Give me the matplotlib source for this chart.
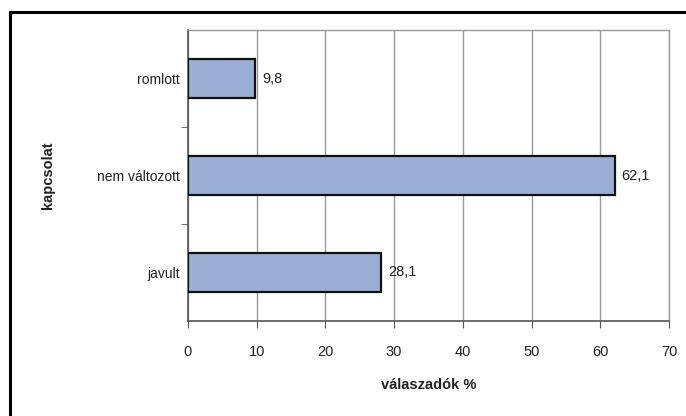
import matplotlib
matplotlib.use("Agg")
import matplotlib.pyplot as plt
from matplotlib.lines import Line2D

categories = ["javult", "nem változott", "romlott"]
values = [28.1, 62.1, 9.8]
value_labels = ["28,1", "62,1", "9,8"]
xticks = [0, 10, 20, 30, 40, 50, 60, 70]

plt.rcParams['font.family'] = ['Liberation Sans', 'DejaVu Sans']

fig = plt.figure(figsize=(6.86, 4.16), dpi=100)
ax = fig.add_axes([188/686, 1-321/416, (669-188)/686, (321-30)/416])

y = list(range(len(categories)))
ax.barh(y, values, height=0.41, color="#9AAFD3", edgecolor="#111111", linewidth=1.6, zorder=3)
for yi, v, lab in zip(y, values, value_labels):
    ax.text(v + 1.0, yi, lab, va="center", ha="left", fontsize=10.5, color="#222222")

ax.set_xlim(0, 70)
ax.set_ylim(-0.5, 2.5)
ax.set_xticks(xticks)
ax.set_xticklabels([str(t) for t in xticks], fontsize=10.5, color="#222222")
ax.set_yticks(y)
ax.set_yticklabels(categories, fontsize=10, color="#222222")
ax.set_yticks([0.5, 1.5], minor=True)
ax.tick_params(axis="y", which="major", length=0, pad=6)
ax.tick_params(axis="y", which="minor", length=5, direction="out", color="#555555")
ax.tick_params(axis="x", length=5, direction="out", color="#555555", pad=12)
ax.grid(axis="x", color="#999999", linewidth=1.0, zorder=0)
for s in ["top", "right"]:
    ax.spines[s].set_color("#999999")
    ax.spines[s].set_linewidth(1.0)
for s in ["left", "bottom"]:
    ax.spines[s].set_color("#555555")
    ax.spines[s].set_linewidth(1.2)

ax.set_xlabel("válaszadók %", fontsize=10.5, fontweight="bold", color="#222222", labelpad=14)
ax.set_ylabel("kapcsolat", fontsize=10.5, fontweight="bold", color="#222222", labelpad=30)

# outer frame (top and left edges visible)
fig.add_artist(Line2D([10/686, 10/686], [0, 1-12/416], transform=fig.transFigure, color="black", linewidth=2.2))
fig.add_artist(Line2D([10/686, 1], [1-12/416, 1-12/416], transform=fig.transFigure, color="black", linewidth=2.2))

fig.savefig("out.png", dpi=100)
